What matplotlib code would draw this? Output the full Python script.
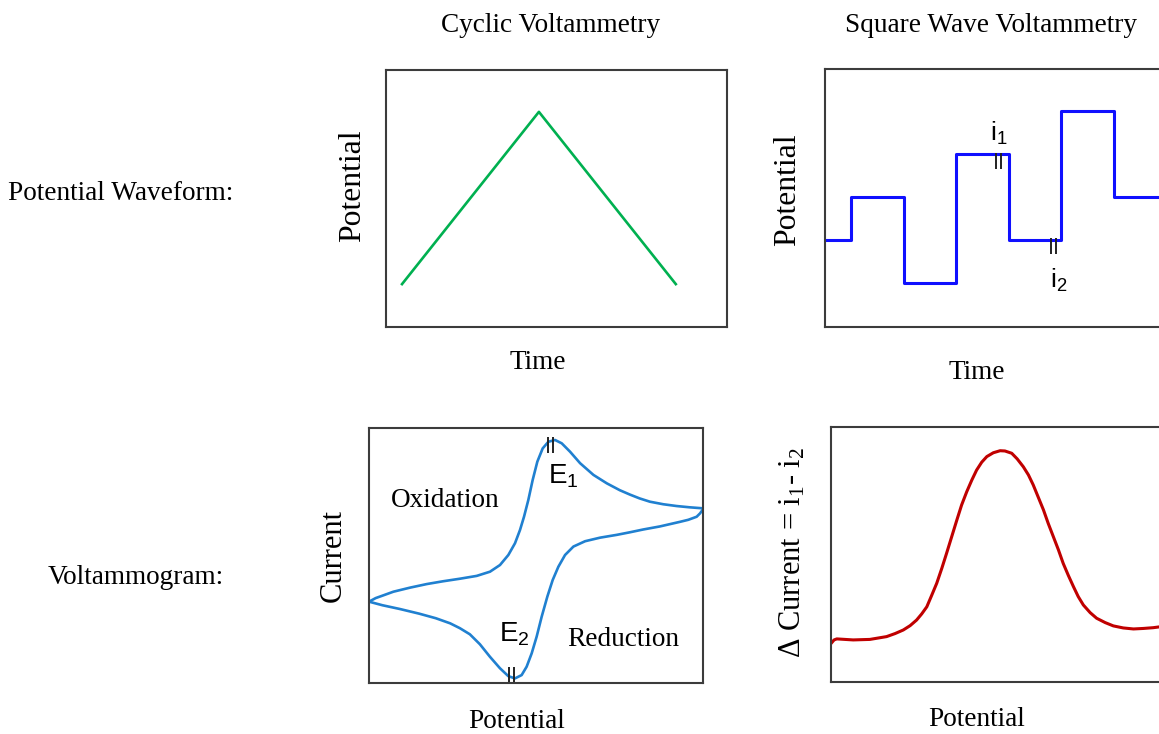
import matplotlib
matplotlib.use("Agg")
import matplotlib.pyplot as plt

W, H = 1159, 734

# Cyclic voltammetry: triangular potential sweep
cv_time = [0, 1, 2]
cv_potential = [0, 1, 0]

# Square wave voltammetry: staircase with superimposed square pulses
sw_time = [0.5, 1, 2, 3, 4, 5, 6, 7]
sw_potential = [1, 2, 0, 3, 1, 4, 2, 2]
sw_sample_time = [3.8, 4.85]
sw_sample_level = [2.85, 0.86]
sw_sample_names = ["i_1", "i_2"]

# Cyclic voltammogram (normalised potential / current)
cv_fwd_e = [0.0, 0.02, 0.035, 0.073, 0.123, 0.173, 0.222, 0.2725, 0.3224, 0.3623,
            0.3922, 0.4172, 0.4371, 0.4521, 0.4641, 0.477, 0.490, 0.504, 0.520,
            0.537, 0.557, 0.577, 0.602, 0.632, 0.672, 0.712, 0.751, 0.781, 0.81,
            0.841, 0.881, 0.921, 0.96, 1.0]
cv_fwd_i = [0.319, 0.333, 0.340, 0.358, 0.374, 0.388, 0.399, 0.409, 0.420, 0.4365,
            0.4627, 0.502, 0.548, 0.600, 0.652, 0.7176, 0.796, 0.868, 0.920,
            0.946, 0.953, 0.940, 0.907, 0.862, 0.816, 0.783, 0.756, 0.739, 0.724,
            0.711, 0.701, 0.694, 0.689, 0.685]
cv_rev_e = [1.0, 0.991, 0.981, 0.956, 0.931, 0.871, 0.821, 0.781, 0.742, 0.692,
            0.647, 0.612, 0.587, 0.567, 0.550, 0.534, 0.517, 0.502, 0.487, 0.472,
            0.457, 0.437, 0.417, 0.392, 0.362, 0.332, 0.302, 0.272, 0.243, 0.2,
            0.15, 0.093, 0.04, 0.0]
cv_rev_i = [0.681, 0.665, 0.652, 0.640, 0.632, 0.614, 0.602, 0.591, 0.581, 0.570,
            0.556, 0.535, 0.502, 0.456, 0.404, 0.339, 0.260, 0.182, 0.116, 0.064,
            0.031, 0.018, 0.027, 0.058, 0.103, 0.152, 0.191, 0.215, 0.234, 0.254,
            0.272, 0.290, 0.305, 0.319]
cv_peak_e = [0.544, 0.427]
cv_peak_i = [0.935, 0.033]

# Square wave voltammogram: difference current
sw_e = [0.002, 0.009, 0.017, 0.065, 0.114, 0.163, 0.188, 0.212, 0.232, 0.251,
        0.266, 0.281, 0.295, 0.310, 0.325, 0.339, 0.354, 0.369, 0.383, 0.398,
        0.413, 0.427, 0.442, 0.457, 0.476, 0.496, 0.510, 0.530, 0.546, 0.564,
        0.579, 0.593, 0.608, 0.623, 0.637, 0.652, 0.667, 0.681, 0.696, 0.711,
        0.725, 0.740, 0.760, 0.779, 0.804, 0.828, 0.857, 0.887, 0.916, 0.945,
        0.962, 1.0]
sw_di = [0.154, 0.165, 0.169, 0.165, 0.167, 0.178, 0.190, 0.204, 0.221, 0.243,
         0.267, 0.295, 0.339, 0.387, 0.446, 0.505, 0.570, 0.635, 0.694, 0.746,
         0.792, 0.831, 0.862, 0.884, 0.899, 0.907, 0.906, 0.897, 0.875, 0.844,
         0.812, 0.773, 0.724, 0.675, 0.622, 0.570, 0.518, 0.465, 0.418, 0.374,
         0.335, 0.302, 0.272, 0.250, 0.233, 0.220, 0.212, 0.208, 0.210, 0.213,
         0.216, 0.222]

serif = "Liberation Serif"
sans = "Liberation Sans"
frame = "#3c3c3c"
tick_col = "#222222"
txt = 19.6


def rect(left, top, right, bottom):
    return [left / W, 1 - bottom / H, (right - left) / W, (bottom - top) / H]


def label(x, y, s, size=txt, rot=0, ha="center", family=serif):
    fig.text(x / W, 1 - y / H, s, fontsize=size, rotation=rot, ha=ha,
             va="center", family=family)


def boxed(ax):
    ax.set_xticks([])
    ax.set_yticks([])
    for sp in ax.spines.values():
        sp.set_color(frame)
        sp.set_linewidth(1.5)


def tick_pair(ax, x, y, dx, ms=11):
    ax.plot([x - dx, x + dx], [y, y], ls="none", marker="|", ms=ms, mew=1.4,
            color=tick_col)


fig = plt.figure(figsize=(W / 100, H / 100), dpi=100)

# --- potential waveforms ---
ax1 = fig.add_axes(rect(386, 70, 727, 327))
ax1.plot(cv_time, cv_potential, color="#00b050", lw=1.9)
ax1.set_xlim(-0.117, 2.374)
ax1.set_ylim(-0.249, 1.243)
boxed(ax1)

ax2 = fig.add_axes(rect(825, 69, 1166, 327))
ax2.step(sw_time, sw_potential, where="post", color="#1010ff", lw=2.2)
ax2.set_xlim(0.5, 7.0)
ax2.set_ylim(-1.02, 4.98)
boxed(ax2)
for t, lv in zip(sw_sample_time, sw_sample_level):
    tick_pair(ax2, t, lv, 0.05)
ax2.text(sw_sample_time[0] + 0.02, 3.3, r"$\mathregular{%s}$" % sw_sample_names[0],
         fontsize=19, family=sans, ha="center", va="baseline")
ax2.text(sw_sample_time[1] + 0.1, -0.1, r"$\mathregular{%s}$" % sw_sample_names[1],
         fontsize=19, family=sans, ha="center", va="baseline")

# --- voltammograms ---
ax3 = fig.add_axes(rect(369, 428, 703, 683))
ax3.plot(cv_fwd_e, cv_fwd_i, color="#2080d0", lw=1.9, solid_joinstyle="round")
ax3.plot(cv_rev_e, cv_rev_i, color="#2080d0", lw=1.9, solid_joinstyle="round")
ax3.set_xlim(0, 1)
ax3.set_ylim(0, 1)
boxed(ax3)
for e, i in zip(cv_peak_e, cv_peak_i):
    tick_pair(ax3, e, i, 0.0075)
ax3.text(0.536, 0.784, r"$\mathregular{E_1}$", fontsize=20, family=sans,
         ha="left", va="baseline")
ax3.text(0.389, 0.162, r"$\mathregular{E_2}$", fontsize=20, family=sans,
         ha="left", va="baseline")
ax3.text(0.066, 0.69, "Oxidation", fontsize=txt, family=serif, ha="left",
         va="baseline")
ax3.text(0.593, 0.146, "Reduction", fontsize=txt, family=serif, ha="left",
         va="baseline")

ax4 = fig.add_axes(rect(831, 427, 1172, 682))
ax4.plot(sw_e, sw_di, color="#c00000", lw=2.2, solid_joinstyle="round")
ax4.set_xlim(0, 1)
ax4.set_ylim(0, 1)
boxed(ax4)

# --- titles, row labels, axis labels ---
label(551, 26, "Cyclic Voltammetry")
label(991, 26, "Square Wave Voltammetry")
label(8, 193, "Potential Waveform:", ha="left")
label(48, 577, "Voltammogram:", ha="left")

label(538, 363, "Time")
label(977, 372, "Time")
label(517, 722, "Potential")
label(977, 720, "Potential")

label(353, 186, "Potential", size=22.8, rot=90)
label(788, 190, "Potential", size=22.8, rot=90)
label(333, 556, "Current", size=22, rot=90)
label(793, 552, r"Δ Current = $\mathregular{i_1}$- $\mathregular{i_2}$", size=22, rot=90)

fig.savefig("out.png", dpi=100)
